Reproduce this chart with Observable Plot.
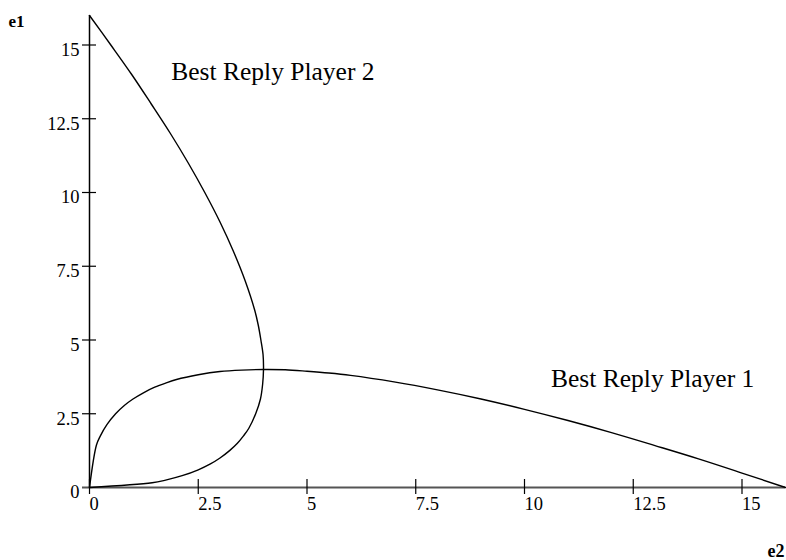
<!DOCTYPE html>
<html><head><meta charset="utf-8">
<script src="https://cdn.jsdelivr.net/npm/d3@7"></script>
<script src="https://cdn.jsdelivr.net/npm/@observablehq/plot@0.6"></script>
<style>body{margin:0;background:#fff}</style>
</head><body><div id="chart"></div>
<script>
// Best reply of player 1: e1 as a function of e2
const p1E2 = [0, 0.16, 0.25, 0.4, 0.6, 0.8, 1, 1.25, 1.5, 1.75, 2, 2.5, 3, 3.5, 4, 4.5, 5, 5.5, 6, 7, 8, 9, 10, 11, 12, 13, 14, 15, 16];
const p1E1 = [0, 1.44, 1.75, 2.13, 2.50, 2.78, 3.00, 3.22, 3.40, 3.54, 3.66, 3.82, 3.93, 3.98, 4.00, 3.99, 3.94, 3.88, 3.80, 3.58, 3.31, 3.00, 2.65, 2.27, 1.86, 1.42, 0.97, 0.49, 0];
// Best reply of player 2: e2 as a function of e1
const p2E1 = [0, 0.16, 0.25, 0.4, 0.6, 0.8, 1, 1.25, 1.5, 1.75, 2, 2.5, 3, 3.5, 4, 4.5, 5, 5.5, 6, 7, 8, 9, 10, 11, 12, 13, 14, 15, 16];
const p2E2 = [0, 1.44, 1.75, 2.13, 2.50, 2.78, 3.00, 3.22, 3.40, 3.54, 3.66, 3.82, 3.93, 3.98, 4.00, 3.99, 3.94, 3.88, 3.80, 3.58, 3.31, 3.00, 2.65, 2.27, 1.86, 1.42, 0.97, 0.49, 0];

const xTicks = [0, 2.5, 5, 7.5, 10, 12.5, 15];
const yTicks = [0, 2.5, 5, 7.5, 10, 12.5, 15];
const curveNames = ["Best Reply Player 2", "Best Reply Player 1"];
const curveNameE2 = [1.88, 10.61];
const curveNameE1 = [13.8, 3.4];
const yAxisName = "e1";
const xAxisName = "e2";

const p1 = p1E2.map((v, i) => ({e2: v, e1: p1E1[i]}));
const p2 = p2E1.map((v, i) => ({e2: p2E2[i], e1: v}));
const names = curveNames.map((t, i) => ({t, e2: curveNameE2[i], e1: curveNameE1[i]}));
const serif = "'Liberation Serif', 'Times New Roman', serif";

const chart = Plot.plot({
  width: 786,
  height: 560,
  marginLeft: 89,
  marginRight: 1,
  marginTop: 15,
  marginBottom: 73,
  style: {fontFamily: serif, fontSize: "18.5px", background: "#fff", color: "#000"},
  x: {domain: [0, 16]},
  y: {domain: [0, 16]},
  marks: [
    Plot.axisX(xTicks, {tickSize: 0, tickPadding: 9, textAnchor: "start", fontSize: 18.5, fill: "#000", tickFormat: d => String(d), label: null}),
    Plot.axisY(yTicks, {tickSize: 0, tickPadding: 10, dy: 5, fontSize: 18.5, fill: "#000", tickFormat: d => String(d), label: null}),
    Plot.ruleY([0], {stroke: "#555", strokeWidth: 2, insetLeft: -7}),
    Plot.ruleX([0], {stroke: "#000", strokeWidth: 1.5}),
    Plot.ruleX(xTicks, {x: d => d, y1: 0, y2: 0, insetTop: -8, insetBottom: -7, stroke: "#000", strokeWidth: 1.2}),
    Plot.ruleY(yTicks.filter(d => d > 0), {y: d => d, x1: 0, x2: 0, insetLeft: -7, insetRight: -7, stroke: "#000", strokeWidth: 1.2}),
    Plot.line(p1, {x: "e2", y: "e1", curve: "catmull-rom", stroke: "#000", strokeWidth: 1.4}),
    Plot.line(p2, {x: "e2", y: "e1", curve: "catmull-rom", stroke: "#000", strokeWidth: 1.4}),
    Plot.text(names, {x: "e2", y: "e1", text: "t", textAnchor: "start", lineAnchor: "bottom", fontSize: 25.5, fill: "#000"}),
    Plot.text([yAxisName], {frameAnchor: "top-left", textAnchor: "start", lineAnchor: "bottom", dx: -81, dy: 11, fontSize: 17, fontWeight: "bold", fill: "#000"}),
    Plot.text([xAxisName], {frameAnchor: "bottom-right", textAnchor: "end", lineAnchor: "bottom", dx: -1, dy: 69, fontSize: 18, fontWeight: "bold", fill: "#000"})
  ]
});
document.getElementById("chart").appendChild(chart);
</script>
</body></html>
